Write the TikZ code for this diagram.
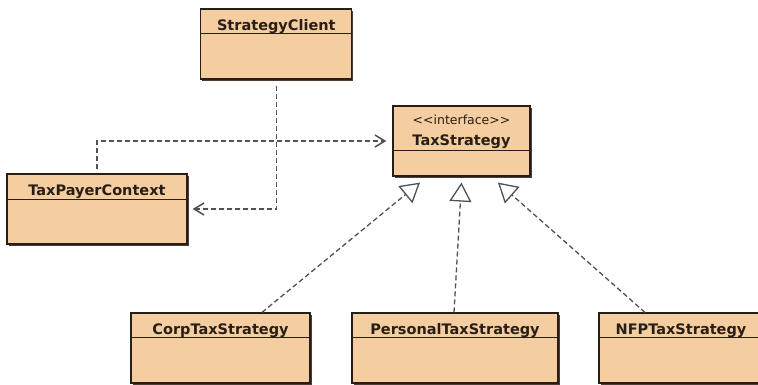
\documentclass[tikz,border=0pt]{standalone}
\usepackage{fontspec}
\setmainfont{DejaVu Sans}
\usetikzlibrary{arrows.meta,shadows}
\definecolor{boxfill}{RGB}{244,206,160}
\definecolor{boxline}{RGB}{40,30,22}
\definecolor{conn}{RGB}{80,80,86}
\begin{document}
\begin{tikzpicture}[x=1pt,y=-1pt,
  umlbox/.style={draw=boxline, line width=1.2pt, fill=boxfill, inner sep=0pt,
    minimum height=70pt,
    drop shadow={shadow xshift=1.6pt, shadow yshift=-1.6pt, fill=boxline, opacity=0.85}},
  cname/.style={font=\bfseries\fontsize{14.5}{16}\selectfont, text=boxline, anchor=base, inner sep=0pt},
  stereo/.style={font=\fontsize{12.5}{14}\selectfont, text=boxline, anchor=base, inner sep=0pt},
  divider/.style={draw=boxline, line width=1.2pt},
  dep/.style={draw=conn, line width=1.5pt, dash pattern=on 5pt off 3pt,
    -{Straight Barb[length=10pt,width=12pt,line width=1.5pt]}},
  real/.style={draw=conn, line width=1.3pt, dash pattern=on 5pt off 3pt,
    -{Triangle[open,length=19pt,width=22pt,fill=white,line width=1.3pt]}}]
\fill[white] (0,0) rectangle (758,384);
\useasboundingbox (0,0) rectangle (758,384);

% classes
\node[umlbox, minimum width=151pt] (sc) at (276.3,44) {};
\node[cname] (scn) at (276.3,30.5) {StrategyClient};
\draw[divider] ([yshift=-25pt]sc.north west) -- ([yshift=-25pt]sc.north east);

\node[umlbox, minimum width=137pt] (ts) at (461.5,141) {};
\node[stereo] (tss) at (461.5,124.3) {<\kern0pt<interface>\kern0pt>};
\node[cname] (tsn) at (461.5,145) {TaxStrategy};
\draw[divider] ([yshift=-45pt]ts.north west) -- ([yshift=-45pt]ts.north east);

\node[umlbox, minimum width=180pt] (tpc) at (97,209) {};
\node[cname] (tpcn) at (97,195) {TaxPayerContext};
\draw[divider] ([yshift=-26pt]tpc.north west) -- ([yshift=-26pt]tpc.north east);

\node[umlbox, minimum width=179pt] (corp) at (220.5,348) {};
\node[cname] (corpn) at (220.5,334) {CorpTaxStrategy};
\draw[divider] ([yshift=-25pt]corp.north west) -- ([yshift=-25pt]corp.north east);

\node[umlbox, minimum width=206pt] (pers) at (455,348) {};
\node[cname] (persn) at (455,334) {PersonalTaxStrategy};
\draw[divider] ([yshift=-25pt]pers.north west) -- ([yshift=-25pt]pers.north east);

\node[umlbox, minimum width=164pt] (nfp) at (681,348) {};
\node[cname] (nfpn) at (681,334) {NFPTaxStrategy};
\draw[divider] ([yshift=-25pt]nfp.north west) -- ([yshift=-25pt]nfp.north east);

% dependencies
\draw[dep, shorten <=6pt, shorten >=5pt] (sc.south) |- (tpc.east);
\draw[dep, shorten <=4pt, shorten >=6pt] (tpc.north) |- (ts.west);

% realizations
\coordinate (t1) at ([xshift=-41.5pt,yshift=-6pt]ts.south);
\coordinate (t2) at ([yshift=-6pt]ts.south);
\coordinate (t3) at ([xshift=36.5pt,yshift=-6pt]ts.south);
\draw[real] ([xshift=41.5pt]corp.north) -- (t1);
\draw[real] ([xshift=-1pt]pers.north) -- (t2);
\draw[real] ([xshift=-36pt]nfp.north) -- (t3);
\end{tikzpicture}
\end{document}
